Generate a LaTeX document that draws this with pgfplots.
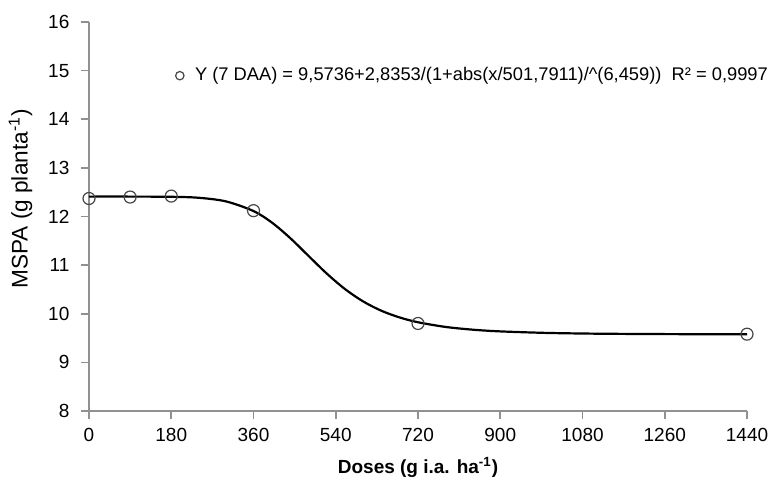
\documentclass[border=0pt]{standalone}
\usepackage{fontspec}
\setmainfont{Liberation Sans}
\usepackage{pgfplots}
\pgfplotsset{compat=1.18}
\definecolor{axgray}{RGB}{145,145,145}
\definecolor{mkgray}{RGB}{70,70,70}
\begin{document}
\begin{tikzpicture}
\begin{axis}[
    name=main,
    scale only axis,
    width=329pt, height=194.5pt,
    xmin=0, xmax=1440, ymin=8, ymax=16,
    xtick={0,180,360,540,720,900,1080,1260,1440},
    ytick={8,9,10,11,12,13,14,15,16},
    axis x line=bottom, axis y line=left,
    axis line style={axgray, line width=0.8pt, -},
    tick style={axgray, line width=0.8pt},
    tick align=outside, major tick length=3.8pt,
    ticklabel style={font=\fontsize{9.5}{10}\selectfont, text=black},
    yticklabel style={xshift=-2.5pt},
    xticklabel style={yshift=-1.5pt},
    /pgf/number format/assume math mode=true,
    /pgf/number format/1000 sep={},
    xlabel={\textbf{Doses (g i.a. ha\textsuperscript{-1})}},
    ylabel={MSPA (g planta\textsuperscript{-1})},
    xlabel style={font=\fontsize{9.5}{10}\selectfont, at={(axis description cs:0.5,-0.145)}, anchor=center},
    ylabel style={font=\fontsize{11.3}{12}\selectfont, at={(axis description cs:-0.104,0.545)}, anchor=center},
    clip=false,
    legend style={draw=none, fill=none, at={(rel axis cs:0.128,0.862)}, anchor=west,
        font=\fontsize{9.15}{10}\selectfont, inner sep=1pt},
    legend image post style={mark size=2.1pt},
    legend cell align=left,
]
% fitted curve
\addplot[black, line width=1.1pt, smooth, forget plot] coordinates {
(0,12.409) (90,12.409) (180,12.405) (240,12.385) (300,12.310) (360,12.112)
(400,11.877) (440,11.559) (480,11.193) (520,10.829) (560,10.509) (600,10.253)
(640,10.061) (680,9.923) (720,9.825) (780,9.729) (840,9.672) (900,9.637)
(1000,9.606) (1100,9.591) (1200,9.584) (1300,9.580) (1440,9.577)
};
% observed values
\addplot[only marks, mark=o, mark size=3pt, mkgray, mark options={line width=0.6pt}] coordinates {
(0,12.37) (90,12.40) (180,12.42) (360,12.12) (720,9.80) (1440,9.58)
};
\addlegendentry{\hspace{3.5pt}Y (7 DAA) = 9,5736+2,8353/(1+abs(x/501,7911)/\^{}(6,459))\ \ R² = 0,9997}
\end{axis}
\pgfresetboundingbox
\path ([xshift=-44.5pt,yshift=-36pt]main.south west) rectangle ([xshift=11pt,yshift=11pt]main.north east);
\end{tikzpicture}
\end{document}
